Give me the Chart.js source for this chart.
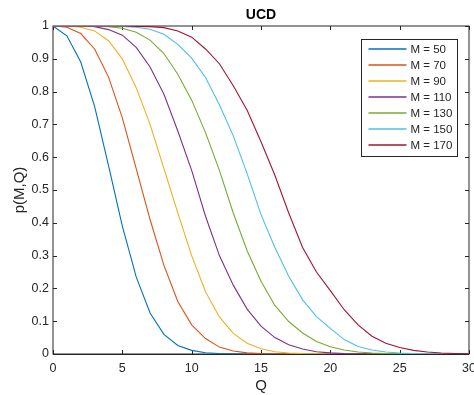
<!DOCTYPE html>
<html>
<head>
<meta charset="utf-8">
<title>UCD</title>
<script src="https://cdn.jsdelivr.net/npm/chart.js@4.4.1/dist/chart.umd.min.js"></script>
<style>
  html, body { margin: 0; padding: 0; background: #fff; }
  #wrap { width: 474px; height: 395px; }
</style>
</head>
<body>
<div id="wrap"><canvas id="ucdChart" width="474" height="395"></canvas></div>
<script>
// Values (Q = 0..30)
const qValues = [0, 1, 2, 3, 4, 5, 6, 7, 8, 9, 10, 11, 12, 13, 14, 15, 16, 17, 18, 19, 20, 21, 22, 23, 24, 25, 26, 27, 28, 29, 30];

const seriesLabels = ['M = 50', 'M = 70', 'M = 90', 'M = 110', 'M = 130', 'M = 150', 'M = 170'];
const seriesColors = ['#0072BD', '#D95319', '#EDB120', '#7E2F8E', '#77AC30', '#4DBEEE', '#A2142F'];

const pM50  = [1, 0.97, 0.89, 0.755, 0.575, 0.39, 0.235, 0.125, 0.06, 0.026, 0.011, 0.004, 0.0015, 0.0005, 0.0002, 0.0001, 0, 0, 0, 0, 0, 0, 0, 0, 0, 0, 0, 0, 0, 0, 0];
const pM70  = [1, 0.996, 0.977, 0.93, 0.845, 0.72, 0.565, 0.41, 0.27, 0.16, 0.089, 0.047, 0.021, 0.009, 0.0035, 0.0012, 0.0004, 0.0001, 0, 0, 0, 0, 0, 0, 0, 0, 0, 0, 0, 0, 0];
const pM90  = [1, 1, 0.996, 0.985, 0.955, 0.9, 0.812, 0.7, 0.565, 0.43, 0.3, 0.19, 0.113, 0.063, 0.033, 0.016, 0.007, 0.003, 0.0012, 0.0005, 0.0002, 0.0001, 0, 0, 0, 0, 0, 0, 0, 0, 0];
const pM110 = [1, 1, 1, 0.998, 0.989, 0.972, 0.935, 0.875, 0.792, 0.68, 0.56, 0.42, 0.3, 0.21, 0.137, 0.085, 0.05, 0.028, 0.015, 0.007, 0.0035, 0.0015, 0.0007, 0.0003, 0.0001, 0, 0, 0, 0, 0, 0];
const pM130 = [1, 1, 1, 1, 0.998, 0.993, 0.981, 0.957, 0.916, 0.853, 0.774, 0.675, 0.56, 0.43, 0.315, 0.222, 0.148, 0.099, 0.064, 0.038, 0.022, 0.012, 0.006, 0.003, 0.0015, 0.0007, 0.0003, 0.0001, 0, 0, 0];
const pM150 = [1, 1, 1, 1, 1, 0.999, 0.996, 0.99, 0.975, 0.944, 0.902, 0.843, 0.76, 0.665, 0.55, 0.425, 0.325, 0.237, 0.165, 0.114, 0.078, 0.044, 0.023, 0.012, 0.006, 0.003, 0.0015, 0.0007, 0.0003, 0.0001, 0];
const pM170 = [1, 1, 1, 1, 1, 1, 0.999, 0.998, 0.995, 0.985, 0.966, 0.93, 0.885, 0.818, 0.743, 0.647, 0.545, 0.43, 0.325, 0.25, 0.193, 0.135, 0.089, 0.054, 0.033, 0.02, 0.011, 0.006, 0.003, 0.0015, 0.0008];

const seriesValues = [pM50, pM70, pM90, pM110, pM130, pM150, pM170];

const xTicks = [0, 5, 10, 15, 20, 25, 30];
const yTicks = [0, 0.1, 0.2, 0.3, 0.4, 0.5, 0.6, 0.7, 0.8, 0.9, 1];

const chartTitle = 'UCD';
const xTitle = 'Q';
const yTitle = 'p(M,Q)';

const FONT = "'Liberation Sans', Arial, Helvetica, sans-serif";
const AXIS_COLOR = '#262626';

// Box, inward ticks on all four sides, title and legend (MATLAB look)
const matlabAxes = {
    id: 'matlabAxes',
    beforeDatasetsDraw(chart) {
        const {ctx, chartArea: ca, scales} = chart;
        ctx.save();
        ctx.strokeStyle = AXIS_COLOR;
        ctx.lineWidth = 1;
        ctx.beginPath();
        xTicks.forEach(v => {
            const px = Math.round(scales.x.getPixelForValue(v)) + 0.5;
            ctx.moveTo(px, ca.bottom); ctx.lineTo(px, ca.bottom - 4);
            ctx.moveTo(px, ca.top); ctx.lineTo(px, ca.top + 4);
        });
        yTicks.forEach(v => {
            const py = Math.round(scales.y.getPixelForValue(v)) + 0.5;
            ctx.moveTo(ca.left, py); ctx.lineTo(ca.left + 4, py);
            ctx.moveTo(ca.right, py); ctx.lineTo(ca.right - 4, py);
        });
        ctx.stroke();
        // soft box like the reference, darker bottom edge
        ctx.strokeRect(ca.left, ca.top, ca.right - ca.left, ca.bottom - ca.top);
        ctx.beginPath();
        ctx.moveTo(ca.left, ca.bottom + 0.5);
        ctx.lineTo(ca.right, ca.bottom + 0.5);
        ctx.stroke();
        ctx.restore();
    },
    afterDraw(chart) {
        const {ctx, chartArea: ca} = chart;
        ctx.save();

        // title
        ctx.fillStyle = '#000';
        ctx.font = 'bold 14px ' + FONT;
        ctx.textAlign = 'center';
        ctx.textBaseline = 'alphabetic';
        ctx.fillText(chartTitle, (ca.left + ca.right) / 2, 19);

        // legend
        const w = 96, h = 117;
        const lx = ca.right - 12.5 - w;
        const ly = ca.top + 12.5;
        ctx.fillStyle = '#fff';
        ctx.fillRect(lx, ly, w, h);
        ctx.strokeStyle = AXIS_COLOR;
        ctx.lineWidth = 1;
        ctx.strokeRect(Math.round(lx) + 0.5, Math.round(ly) + 0.5, w, h);
        ctx.font = '11.5px ' + FONT;
        ctx.textAlign = 'left';
        ctx.textBaseline = 'middle';
        chart.data.datasets.forEach((ds, i) => {
            const y = Math.round(ly + 10.5 + i * 16);
            ctx.strokeStyle = ds.borderColor;
            ctx.lineWidth = 1.6;
            ctx.beginPath();
            ctx.moveTo(lx + 8, y);
            ctx.lineTo(lx + 46, y);
            ctx.stroke();
            ctx.fillStyle = AXIS_COLOR;
            ctx.fillText(ds.label, lx + 50, y + 1);
        });
        ctx.restore();
    }
};

const datasets = seriesValues.map((vals, i) => ({
    label: seriesLabels[i],
    data: qValues.map((q, j) => ({x: q, y: vals[j]})),
    borderColor: seriesColors[i],
    backgroundColor: seriesColors[i],
    borderWidth: 1.1,
    pointRadius: 0,
    tension: 0,
    fill: false,
    order: -i
}));

new Chart(document.getElementById('ucdChart'), {
    type: 'line',
    data: { datasets },
    options: {
        responsive: false,
        devicePixelRatio: 1,
        animation: false,
        layout: { padding: { top: 26, right: 5, bottom: 0, left: 0 } },
        plugins: {
            legend: { display: false },
            title: { display: false },
            tooltip: { enabled: false }
        },
        scales: {
            x: {
                type: 'linear',
                min: 0,
                max: 30,
                grid: { display: false, drawTicks: false },
                border: { display: false },
                afterBuildTicks: scale => { scale.ticks = xTicks.map(v => ({value: v})); },
                afterFit: scale => { scale.height = 41; scale.paddingLeft = 0; scale.paddingRight = 0; },
                ticks: {
                    padding: 7,
                    color: AXIS_COLOR,
                    font: { family: FONT, size: 12.5 },
                    maxRotation: 0,
                    callback: v => String(v)
                },
                title: {
                    display: true,
                    text: xTitle,
                    color: AXIS_COLOR,
                    font: { family: FONT, size: 15 },
                    padding: { top: 0, bottom: 0 }
                }
            },
            y: {
                min: 0,
                max: 1,
                grid: { display: false, drawTicks: false },
                border: { display: false },
                afterBuildTicks: scale => { scale.ticks = yTicks.map(v => ({value: v})); },
                afterFit: scale => { scale.width = 53; scale.paddingTop = 0; scale.paddingBottom = 0; },
                ticks: {
                    padding: 4,
                    color: AXIS_COLOR,
                    font: { family: FONT, size: 12.5 },
                    callback: v => String(v)
                },
                title: {
                    display: true,
                    text: yTitle,
                    color: AXIS_COLOR,
                    font: { family: FONT, size: 15 },
                    padding: { top: 11, bottom: 0 }
                }
            }
        }
    },
    plugins: [matlabAxes]
});
</script>
</body>
</html>
